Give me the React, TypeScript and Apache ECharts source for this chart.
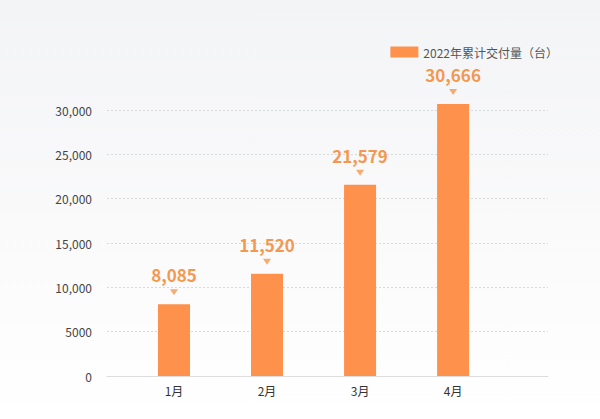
import React, { useEffect, useRef } from "react";
import * as echarts from "echarts";

const months = ["1月", "2月", "3月", "4月"];
const deliveries = [8085, 11520, 21579, 30666];
const seriesName = "2022年累计交付量（台）";
const yTicks = [0, 5000, 10000, 15000, 20000, 25000, 30000];

const FONT = '"Noto Sans CJK SC", "Noto Sans", sans-serif';
const ORANGE = "#fe914b";
const LABEL_ORANGE = "#f4984f";

export default function App() {
  const ref = useRef<HTMLDivElement>(null);
  useEffect(() => {
    if (!ref.current) return;
    const chart = echarts.init(ref.current, undefined, { renderer: "svg" });
    chart.setOption({
      animation: false,
      backgroundColor: "transparent",
      textStyle: { fontFamily: FONT },
      legend: {
        data: [{ name: seriesName, icon: "rect" }],
        right: 37,
        top: 41,
        itemWidth: 28,
        itemHeight: 11,
        itemGap: 8,
        textStyle: { fontSize: 12, color: "#555", fontFamily: FONT },
      },
      grid: { left: 107, right: 52, top: 110, bottom: 43 },
      xAxis: {
        type: "value",
        min: -0.72,
        max: 4.02,
        splitLine: { show: false },
        axisLine: { show: true, lineStyle: { color: "#dddddd", width: 1 } },
        axisTick: { show: false },
        axisLabel: {
          customValues: months.map((_, i) => i),
          formatter: (v: number) => months[Math.round(v)] ?? "",
          color: "#333",
          fontSize: 12,
          margin: 8,
          fontFamily: FONT,
        },
      },
      yAxis: {
        type: "value",
        min: 0,
        max: yTicks[yTicks.length - 1],
        interval: 5000,
        axisLine: { show: false },
        axisTick: { show: false },
        axisLabel: {
          color: "#444",
          fontSize: 12,
          margin: 15,
          fontFamily: FONT,
          formatter: (v: number) => (v >= 10000 ? v.toLocaleString("en-US") : String(v)),
        },
        splitLine: { lineStyle: { color: "#d9d9d9", type: [2, 2], width: 1 } },
      },
      series: [
        {
          name: seriesName,
          type: "bar",
          clip: false,
          barWidth: 32,
          data: deliveries.map((v, i) => [i, v]),
          itemStyle: { color: ORANGE },
          label: {
            show: true,
            position: "top",
            distance: 21,
            formatter: (p: any) => (p.value[1] as number).toLocaleString("en-US"),
            fontSize: 17,
            fontWeight: "bold",
            color: LABEL_ORANGE,
            fontFamily: FONT,
          },
        },
        {
          name: "marker",
          type: "scatter",
          clip: false,
          silent: true,
          data: deliveries.map((v, i) => [i, v]),
          symbol: "triangle",
          symbolRotate: 180,
          symbolSize: [8, 6],
          symbolOffset: [0, -12],
          itemStyle: { color: LABEL_ORANGE },
          z: 3,
        },
      ],
    });
    return () => chart.dispose();
  }, []);
  return (
    <div
      style={{
        position: "fixed",
        left: 0,
        top: 0,
        width: 600,
        height: 419,
        background: "linear-gradient(to bottom, #f3f4f6 0%, #fafafb 55%, #ffffff 100%)",
      }}
    >
      <div ref={ref} style={{ width: 600, height: 419 }} />
    </div>
  );
}
